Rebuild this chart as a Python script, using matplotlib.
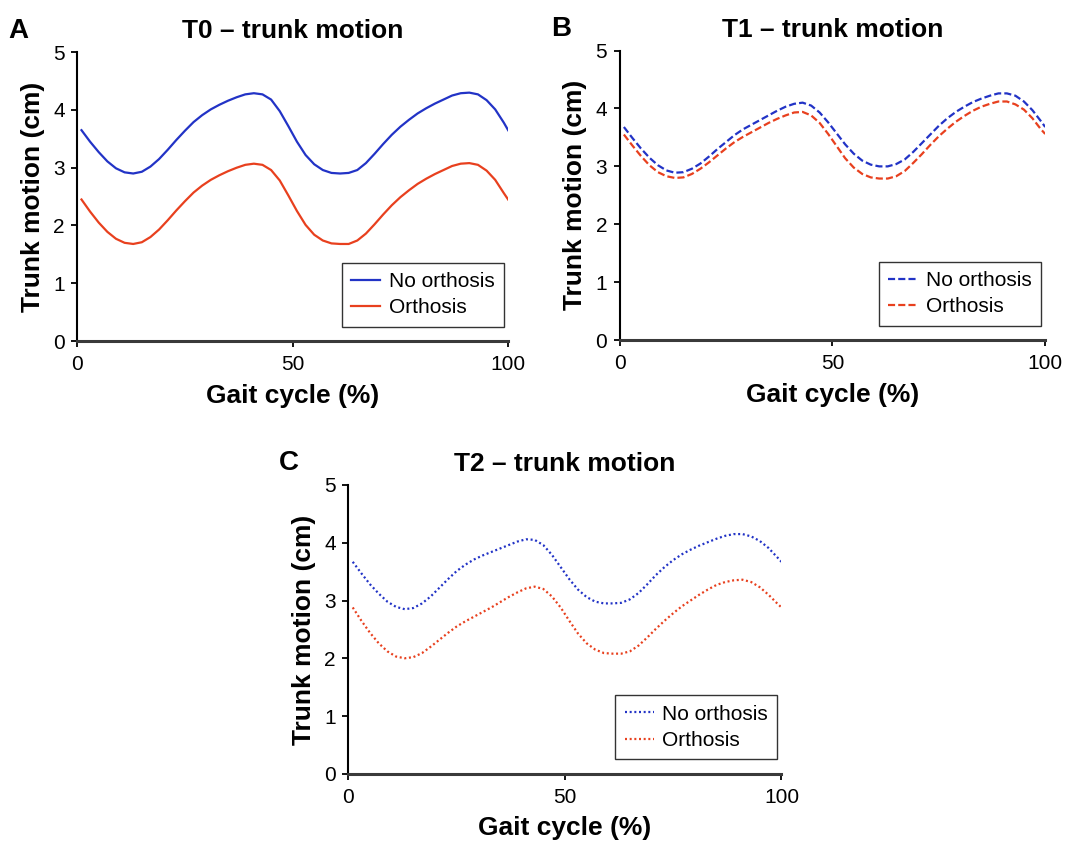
import matplotlib.pyplot as plt

plt.rcParams['font.family'] = ['Liberation Sans', 'DejaVu Sans']

# gait cycle positions (%)
gait = [1, 3, 5, 7, 9, 11, 13, 15, 17, 19, 21, 23, 25, 27, 29, 31, 33, 35, 37,
        39, 41, 43, 45, 47, 49, 51, 53, 55, 57, 59, 61, 63, 65, 67, 69, 71, 73,
        75, 77, 79, 81, 83, 85, 87, 89, 91, 93, 95, 97, 99, 100]

# T0
t0_no = [3.65, 3.45, 3.27, 3.11, 2.99, 2.92, 2.90, 2.93, 3.02, 3.15, 3.31, 3.48,
         3.64, 3.79, 3.91, 4.01, 4.09, 4.16, 4.22, 4.27, 4.29, 4.27, 4.18, 3.98,
         3.72, 3.45, 3.22, 3.06, 2.96, 2.91, 2.90, 2.91, 2.96, 3.08, 3.24, 3.41,
         3.57, 3.71, 3.83, 3.94, 4.03, 4.11, 4.18, 4.25, 4.29, 4.30, 4.27, 4.17,
         4.01, 3.78, 3.65]
t0_orth = [2.45, 2.24, 2.05, 1.89, 1.77, 1.70, 1.68, 1.71, 1.80, 1.93, 2.09, 2.26,
           2.42, 2.57, 2.69, 2.79, 2.87, 2.94, 3.00, 3.05, 3.07, 3.05, 2.96, 2.78,
           2.52, 2.25, 2.01, 1.84, 1.74, 1.69, 1.68, 1.68, 1.74, 1.86, 2.02, 2.19,
           2.35, 2.49, 2.61, 2.72, 2.81, 2.89, 2.96, 3.03, 3.07, 3.08, 3.05, 2.95,
           2.79, 2.56, 2.45]

# T1
t1_no = [3.68, 3.49, 3.31, 3.15, 3.02, 2.93, 2.89, 2.90, 2.96, 3.05, 3.17, 3.30,
         3.42, 3.54, 3.64, 3.72, 3.80, 3.88, 3.96, 4.03, 4.08, 4.10, 4.05, 3.93,
         3.76, 3.57, 3.38, 3.22, 3.10, 3.03, 3.00, 3.00, 3.04, 3.12, 3.25, 3.40,
         3.55, 3.70, 3.83, 3.94, 4.03, 4.11, 4.17, 4.22, 4.26, 4.26, 4.22, 4.12,
         3.97, 3.78, 3.68]
t1_orth = [3.55, 3.36, 3.18, 3.02, 2.90, 2.83, 2.80, 2.81, 2.87, 2.96, 3.07, 3.19,
           3.31, 3.42, 3.51, 3.59, 3.67, 3.75, 3.82, 3.88, 3.93, 3.94, 3.88, 3.75,
           3.56, 3.35, 3.14, 2.98, 2.87, 2.81, 2.79, 2.79, 2.83, 2.92, 3.06, 3.21,
           3.37, 3.52, 3.65, 3.77, 3.87, 3.96, 4.03, 4.08, 4.12, 4.12, 4.07, 3.98,
           3.83, 3.64, 3.56]

# T2
t2_no = [3.67, 3.47, 3.28, 3.12, 2.98, 2.89, 2.85, 2.87, 2.95, 3.07, 3.22, 3.37,
         3.51, 3.62, 3.71, 3.78, 3.84, 3.90, 3.96, 4.02, 4.06, 4.05, 3.96, 3.79,
         3.58, 3.37, 3.19, 3.06, 2.98, 2.95, 2.95, 2.96, 3.02, 3.13, 3.28, 3.44,
         3.58, 3.70, 3.80, 3.88, 3.95, 4.01, 4.07, 4.12, 4.15, 4.15, 4.11, 4.03,
         3.91, 3.75, 3.67]
t2_orth = [2.88, 2.65, 2.44, 2.26, 2.12, 2.03, 2.00, 2.02, 2.09, 2.20, 2.32, 2.44,
           2.55, 2.64, 2.72, 2.80, 2.88, 2.97, 3.06, 3.14, 3.21, 3.24, 3.20, 3.07,
           2.88, 2.65, 2.43, 2.26, 2.15, 2.09, 2.08, 2.08, 2.12, 2.22, 2.36, 2.51,
           2.65, 2.78, 2.90, 3.00, 3.10, 3.19, 3.27, 3.32, 3.35, 3.36, 3.32, 3.23,
           3.10, 2.95, 2.88]

blue = '#2233c6'
red = '#e8401e'

panels = [
    ('A', 'T0 – trunk motion', t0_no, t0_orth, '-', [0.072, 0.595, 0.402, 0.343]),
    ('B', 'T1 – trunk motion', t1_no, t1_orth, (0, (3.2, 1.4)), [0.578, 0.596, 0.397, 0.344]),
    ('C', 'T2 – trunk motion', t2_no, t2_orth, (0, (0.9, 1.2)), [0.325, 0.081, 0.404, 0.343]),
]

fig = plt.figure(figsize=(10.72, 8.42), dpi=100)

for letter, title, no, orth, ls, rect in panels:
    ax = fig.add_axes(rect)
    ax.plot(gait, no, color=blue, lw=1.6, ls=ls, label='No orthosis')
    ax.plot(gait, orth, color=red, lw=1.6, ls=ls, label='Orthosis')
    ax.set_xlim(0, 100)
    ax.set_ylim(0, 5)
    ax.set_xticks([0, 50, 100])
    ax.set_yticks([0, 1, 2, 3, 4, 5])
    for s in ['top', 'right']:
        ax.spines[s].set_visible(False)
    ax.spines['left'].set_linewidth(1.5)
    ax.spines['bottom'].set_linewidth(2.2)
    ax.spines['bottom'].set_color('#3a3a3a')
    ax.tick_params(direction='out', length=4, width=1.3, labelsize=15)
    ax.tick_params(axis='x', pad=6)
    ax.tick_params(axis='y', pad=5)
    ax.set_xlabel('Gait cycle (%)', fontsize=19, fontweight='bold', labelpad=7)
    ax.set_ylabel('Trunk motion (cm)', fontsize=19, fontweight='bold', labelpad=6)
    ax.set_title(title, fontsize=19, fontweight='bold', pad=10)
    ax.text(-0.16, 1.12, letter, transform=ax.transAxes, fontsize=20,
            fontweight='bold', va='top', ha='left')
    leg = ax.legend(loc='lower right', bbox_to_anchor=(0.99, 0.05), fontsize=15,
                    frameon=True, fancybox=False, handlelength=1.4,
                    handletextpad=0.4, borderpad=0.45, labelspacing=0.35,
                    borderaxespad=0)
    leg.get_frame().set_edgecolor('black')
    leg.get_frame().set_linewidth(1.0)

fig.savefig('out.png', dpi=100)
